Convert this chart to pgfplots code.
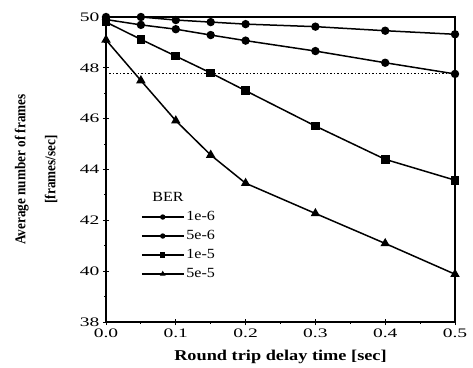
\documentclass[border=0pt]{standalone}
\usepackage{pgfplots}
\pgfplotsset{compat=1.18}
\usepackage{fontspec}
\setmainfont{Liberation Serif}
\newfontfamily\tickfont[FakeStretch=1.5]{Liberation Serif}
\newfontfamily\xlabfont[FakeStretch=1.22]{Liberation Serif}
\newfontfamily\ylabfont[FakeStretch=0.88]{Liberation Serif}
\newfontfamily\legfont[FakeStretch=1.15]{Liberation Serif}
\begin{document}
\begin{tikzpicture}
\begin{axis}[
  scale only axis,
  width=349pt, height=305pt,
  xmin=0, xmax=0.5, ymin=38, ymax=50,
  xtick={0,0.1,0.2,0.3,0.4,0.5},
  xticklabels={0.0,0.1,0.2,0.3,0.4,0.5},
  minor xtick={0.05,0.15,0.25,0.35,0.45},
  ytick={38,40,42,44,46,48,50},
  minor ytick={39,41,43,45,47,49},
  xtick pos=left, ytick pos=left,
  tick align=center,
  major tick length=6pt, minor tick length=3pt,
  every tick/.style={black, line width=0.9pt},
  axis line style={line width=1.1pt},
  tick label style={font=\tickfont\fontsize{13}{13}\selectfont},
  /pgf/number format/assume math mode=true,
  xlabel={\bfseries Round trip delay time [sec]},
  ylabel={\bfseries Average number of frames\\\bfseries [frames/sec]},
  ylabel style={align=center, font=\ylabfont\fontsize{15}{30}\selectfont,
    at={(axis description cs:-0.2,0.5)}, anchor=center},
  xlabel style={font=\xlabfont\fontsize{15}{15}\selectfont,
    at={(axis description cs:0.5,0)}, anchor=center, yshift=-35pt},
  legend style={draw=none, fill=none, at={(axis description cs:0.1,0.435)}, anchor=north west,
    font=\legfont\fontsize{14}{16}\selectfont, row sep=2pt, inner sep=0pt,
    nodes={inner sep=2pt, text height=10pt, text depth=3pt}},
  legend cell align=left,
  legend image code/.code={\draw[mark repeat=2, mark phase=2, #1] plot coordinates {(0pt,0pt) (21pt,0pt) (42pt,0pt)};},
  legend image post style={mark size=2pt, line width=1.3pt},
  every axis plot/.append style={line width=1.5pt, black, mark size=3.4pt},
]
\coordinate (sw) at (rel axis cs:0,0);
\coordinate (ne) at (rel axis cs:1,1);
\addlegendimage{empty legend}
\addlegendentry{\hspace{-34pt}BER}
\addplot[mark=*] coordinates {(0,50) (0.05,50) (0.1,49.88) (0.15,49.8) (0.2,49.72) (0.3,49.62) (0.4,49.46) (0.5,49.32)};
\addlegendentry{1e-6}
\addplot[mark=*] coordinates {(0,49.9) (0.05,49.69) (0.1,49.52) (0.15,49.29) (0.2,49.07) (0.3,48.66) (0.4,48.2) (0.5,47.76)};
\addlegendentry{5e-6}
\addplot[mark=square*, mark size=3.6pt] coordinates {(0,49.8) (0.05,49.12) (0.1,48.46) (0.15,47.8) (0.2,47.1) (0.3,45.71) (0.4,44.4) (0.5,43.58)};
\addlegendentry{1e-5}
\addplot[mark=triangle*, mark size=4pt] coordinates {(0,49.1) (0.05,47.5) (0.1,45.92) (0.15,44.57) (0.2,43.46) (0.3,42.27) (0.4,41.09) (0.5,39.88)};
\addlegendentry{5e-5}
\addplot[dotted, line width=0.9pt, mark=none, forget plot] coordinates {(0,47.76) (0.5,47.76)};
\end{axis}
\pgfresetboundingbox
\path ([shift={(-106pt,-45pt)}]sw) rectangle ([shift={(18pt,17pt)}]ne);
\end{tikzpicture}
\end{document}
